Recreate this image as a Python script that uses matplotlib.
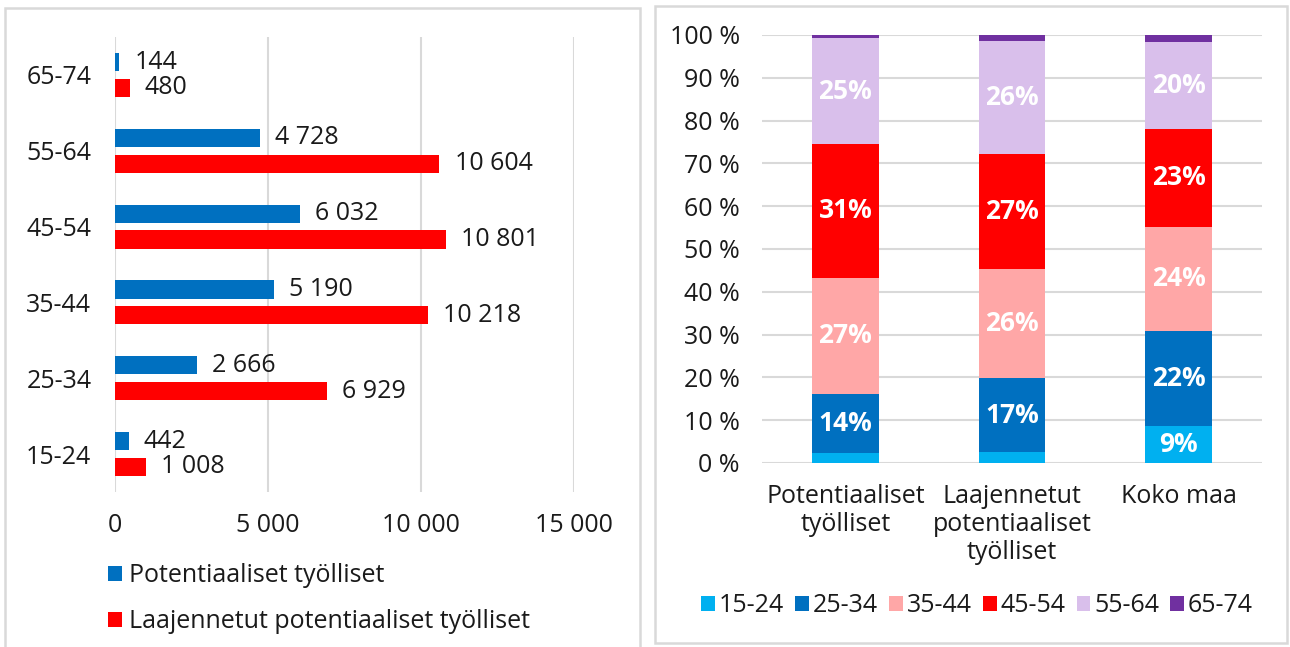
import matplotlib.pyplot as plt
from matplotlib.patches import Rectangle

plt.rcParams['font.family'] = ['Open Sans', 'DejaVu Sans']

# left chart data
ages = ['15-24', '25-34', '35-44', '45-54', '55-64', '65-74']
potentiaaliset = [442, 2666, 5190, 6032, 4728, 144]
laajennetut = [1008, 6929, 10218, 10801, 10604, 480]
series_names = ['Potentiaaliset työlliset', 'Laajennetut potentiaaliset työlliset']

# right chart data (shares, %)
groups = ['Potentiaaliset\ntyölliset', 'Laajennetut\npotentiaaliset\ntyölliset', 'Koko maa']
shares = {
    '15-24': [2.3, 2.5, 8.7],
    '25-34': [13.9, 17.3, 22.1],
    '35-44': [27.0, 25.6, 24.4],
    '45-54': [31.4, 26.9, 22.8],
    '55-64': [24.6, 26.4, 20.4],
    '65-74': [0.8, 1.3, 1.6],
}
share_colors = ['#00B0F0', '#0070C0', '#FFA7A7', '#FF0000', '#D9BFEB', '#7030A0']

W, H = 1290, 647
fig = plt.figure(figsize=(W / 100, H / 100), dpi=100)
txt = '#1a1a1a'
grid = '#D9D9D9'
fs = 18

def px_axes(x0, y0, x1, y1):
    return fig.add_axes([x0 / W, 1 - y1 / H, (x1 - x0) / W, (y1 - y0) / H])

# panel borders
for (x0, y0, x1, y1) in [(5, 8, 640, 655), (655, 6, 1287, 643)]:
    fig.patches.append(Rectangle((x0 / W, 1 - y1 / H), (x1 - x0) / W, (y1 - y0) / H,
                                 transform=fig.transFigure, fill=False,
                                 edgecolor=grid, lw=1.8))

# ---- left: horizontal bars
ax = px_axes(115, 37, 574, 492)
pos = list(range(len(ages)))
b1 = ax.barh([p + 0.17 for p in pos], potentiaaliset, height=0.24, color='#0070C0')
b2 = ax.barh([p - 0.17 for p in pos], laajennetut, height=0.24, color='#FF0000')
for bars, vals in [(b1, potentiaaliset), (b2, laajennetut)]:
    for r, v in zip(bars, vals):
        ax.annotate(f"{v:,}".replace(',', ' '), (v, r.get_y() + r.get_height() / 2),
                    xytext=(11, 0), textcoords='offset points', va='center',
                    fontsize=fs, color=txt)
ax.set_xlim(0, 15000)
ax.set_ylim(-0.5, 5.5)
ax.set_yticks(pos)
ax.set_yticklabels(ages)
ax.set_xticks([0, 5000, 10000, 15000])
ax.set_xticklabels(['0', '5 000', '10 000', '15 000'])
ax.tick_params(axis='y', length=0, pad=17, labelsize=fs, labelcolor=txt)
ax.tick_params(axis='x', length=0, pad=15, labelsize=fs, labelcolor=txt)
ax.grid(axis='x', color=grid, lw=1.5)
ax.set_axisbelow(True)
for s in ax.spines.values():
    s.set_visible(False)
fig.legend([b1, b2], series_names, loc='upper left', bbox_to_anchor=(108 / W, 1 - 563 / H),
           frameon=False, fontsize=fs, labelcolor=txt, handlelength=0.55, handleheight=0.55,
           handletextpad=0.3, labelspacing=0.85, borderaxespad=0, borderpad=0)

# ---- right: stacked 100% bars
ax2 = px_axes(762, 35, 1262, 463)
x = list(range(len(groups)))
bottom = [0, 0, 0]
handles = []
for (age, vals), c in zip(shares.items(), share_colors):
    bars = ax2.bar(x, vals, bottom=bottom, width=0.4, color=c)
    handles.append(bars)
    for xi, v, b in zip(x, vals, bottom):
        if v >= 5:
            ax2.text(xi, b + v / 2, f"{v:.0f}%", ha='center', va='center',
                     color='white', fontsize=19, fontweight='bold')
    bottom = [b + v for b, v in zip(bottom, vals)]
ax2.set_xlim(-0.5, 2.5)
ax2.set_ylim(0, 100)
ax2.set_yticks(range(0, 101, 10))
ax2.set_yticklabels([f"{t} %" for t in range(0, 101, 10)])
ax2.set_xticks(x)
ax2.set_xticklabels(groups, linespacing=1.15)
ax2.tick_params(axis='y', length=0, pad=16, labelsize=fs, labelcolor=txt)
ax2.tick_params(axis='x', length=0, pad=15, labelsize=fs, labelcolor=txt)
ax2.grid(axis='y', color=grid, lw=1.5)
ax2.set_axisbelow(True)
for s in ax2.spines.values():
    s.set_visible(False)
fig.legend(handles, list(shares.keys()), loc='center', bbox_to_anchor=(977 / W, 1 - 606 / H),
           ncol=6, frameon=False, fontsize=fs, labelcolor=txt, handlelength=0.55,
           handleheight=0.55, handletextpad=0.15, columnspacing=0.45, borderaxespad=0)

fig.savefig('out.png', dpi=100)
